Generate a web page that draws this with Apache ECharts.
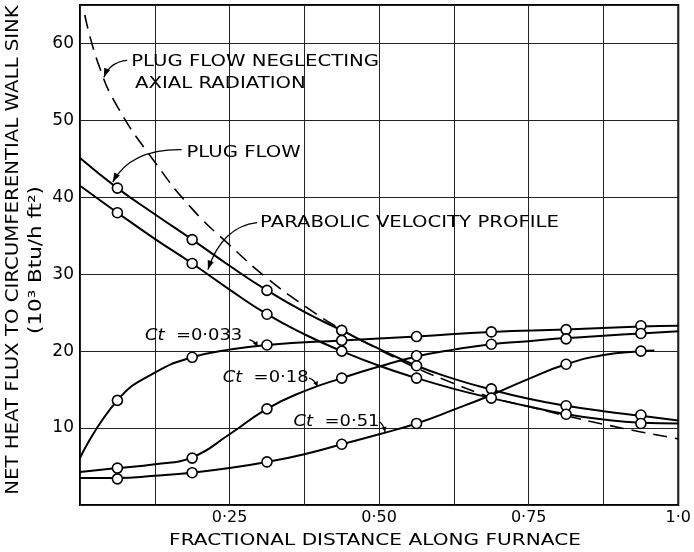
<!DOCTYPE html>
<html><head><meta charset="utf-8">
<script src="https://cdn.jsdelivr.net/npm/echarts@6/dist/echarts.min.js"></script>
<style>html,body{margin:0;padding:0;background:#fff}#c{width:694px;height:552px}</style>
</head><body><div id="c"></div>
<script>
// ---- data ----
const xTickValues = [0.25, 0.5, 0.75, 1.0];
const xTickLabels = ['0·25', '0·50', '0·75', '1·0'];
const yTickValues = [10, 20, 30, 40, 50, 60];

const dashedCurve = [[0.008,63.7],[0.03,57.5],[0.0625,51.8],[0.125,44.6],[0.1875,38.5],[0.25,33.8],[0.3125,29.5],[0.375,25.9],[0.4375,22.8],[0.5,20.2],[0.5625,17.8],[0.625,15.8],[0.6875,14.0],[0.75,12.8],[0.8125,11.6],[0.875,10.5],[0.9375,9.5],[1.0,8.6]];

const plugCurve = [[0,45.1],[0.0625,41.2],[0.125,37.8],[0.1875,34.5],[0.25,31.1],[0.3125,27.9],[0.375,25.1],[0.4375,22.7],[0.5,20.3],[0.5625,18.1],[0.625,16.4],[0.6875,15.0],[0.75,13.8],[0.8125,12.9],[0.875,12.2],[0.9375,11.6],[1.0,11.0]];
const plugPts = [[0.0625,41.2],[0.1875,34.5],[0.3125,27.9],[0.4375,22.7],[0.5625,18.1],[0.6875,15.1],[0.8125,12.9],[0.9375,11.7]];

const paraCurve = [[0,41.5],[0.0625,38.0],[0.125,34.6],[0.1875,31.4],[0.25,28.0],[0.3125,24.8],[0.375,22.2],[0.4375,20.0],[0.5,18.1],[0.5625,16.5],[0.625,15.1],[0.6875,13.9],[0.75,12.8],[0.8125,11.8],[0.875,11.1],[0.9375,10.7],[1.0,10.6]];
const paraPts = [[0.0625,38.0],[0.1875,31.4],[0.3125,24.8],[0.4375,20.0],[0.5625,16.5],[0.6875,13.9],[0.8125,11.8],[0.9375,10.6]];

const ct033Curve = [[0,6.1],[0.0625,13.6],[0.125,17.2],[0.1875,19.2],[0.25,20.2],[0.3125,20.8],[0.4375,21.4],[0.5625,21.9],[0.6875,22.5],[0.8125,22.8],[0.9375,23.2],[1.0,23.3]];
const ct033Pts = [[0.0625,13.6],[0.1875,19.2],[0.3125,20.8],[0.4375,21.4],[0.5625,21.9],[0.6875,22.5],[0.8125,22.8],[0.9375,23.3]];

const ct018Curve = [[0,4.3],[0.0625,4.8],[0.125,5.3],[0.1875,6.2],[0.25,9.2],[0.3125,12.5],[0.375,14.8],[0.4375,16.5],[0.5,18.0],[0.5625,19.3],[0.625,20.2],[0.6875,20.9],[0.75,21.3],[0.8125,21.7],[0.875,22.0],[0.9375,22.3],[1.0,22.6]];
const ct018Pts = [[0.0625,4.8],[0.1875,6.1],[0.3125,12.5],[0.4375,16.5],[0.5625,19.4],[0.6875,20.9],[0.8125,21.6],[0.9375,22.3]];

const ct051Curve = [[0,3.5],[0.0625,3.5],[0.125,3.8],[0.1875,4.2],[0.25,4.8],[0.3125,5.6],[0.375,6.6],[0.4375,7.9],[0.5,9.2],[0.5625,10.6],[0.625,12.4],[0.6875,14.3],[0.75,16.4],[0.8125,18.3],[0.875,19.5],[0.9375,20.0],[0.96,20.1]];
const ct051Pts = [[0.0625,3.4],[0.1875,4.2],[0.3125,5.6],[0.4375,7.9],[0.5625,10.6],[0.8125,18.3],[0.9375,20.0]];

// ---- chart ----
const FONT = '"DejaVu Sans", sans-serif';
const chart = echarts.init(document.getElementById('c'), null, {renderer: 'canvas'});

function lineSeries(data, dashed) {
  return {
    type: 'line', data: data, showSymbol: false, smooth: 0.5,
    lineStyle: {color: '#000', width: dashed ? 1.6 : 2, type: dashed ? [14, 8] : 'solid'},
    silent: true, z: 2, animation: false
  };
}
function markerSeries(data) {
  return {
    type: 'scatter', data: data, symbol: 'circle', symbolSize: 10,
    itemStyle: {color: '#fff', borderColor: '#000', borderWidth: 1.6, opacity: 1},
    silent: true, z: 3, animation: false
  };
}

chart.setOption({
  animation: false,
  backgroundColor: '#fff',
  grid: {left: 80, right: 6, top: 5, bottom: 47, show: true, borderColor: '#000', borderWidth: 2, backgroundColor: 'transparent'},
  xAxis: {
    type: 'value', min: 0, max: 1, interval: 0.125,
    axisLine: {show: false}, axisTick: {show: false},
    splitLine: {show: true, lineStyle: {color: '#222', width: 1}},
    axisLabel: {
      margin: 5, color: '#000', fontFamily: FONT, fontSize: 16,
      formatter: function (v) {
        for (let i = 0; i < xTickValues.length; i++) if (Math.abs(v - xTickValues[i]) < 1e-9) return xTickLabels[i];
        return '';
      }
    }
  },
  yAxis: {
    type: 'value', min: 0, max: 65, interval: 10,
    axisLine: {show: false}, axisTick: {show: false},
    splitLine: {show: true, lineStyle: {color: '#222', width: 1}},
    axisLabel: {
      margin: 6, color: '#000', fontFamily: FONT, fontSize: 17, showMaxLabel: false,
      formatter: function (v) { return yTickValues.indexOf(v) >= 0 ? String(v) : ''; }
    }
  },
  series: [
    lineSeries(dashedCurve, true),
    lineSeries(plugCurve), lineSeries(paraCurve),
    lineSeries(ct033Curve), lineSeries(ct018Curve), lineSeries(ct051Curve),
    markerSeries(plugPts), markerSeries(paraPts),
    markerSeries(ct033Pts), markerSeries(ct018Pts), markerSeries(ct051Pts)
  ]
});

// ---- annotations (anchored in data coordinates) ----
function P(pt) { return chart.convertToPixel({gridIndex: 0}, pt); }
function txt(pos, text, opts) {
  opts = opts || {};
  return {
    type: 'text', x: pos[0], y: pos[1], rotation: opts.rotation || 0,
    scaleX: opts.scaleX || 1, z: 20, silent: true,
    style: {
      text: text, fill: '#000', font: (opts.size || 16) + 'px ' + FONT,
      align: opts.align || 'left', verticalAlign: 'middle', rich: opts.rich
    }
  };
}
function arrowHead(tip, from, L, W) {
  L = L || 8; W = W || 3;
  const dx = tip[0] - from[0], dy = tip[1] - from[1];
  const d = Math.hypot(dx, dy) || 1, ux = dx / d, uy = dy / d;
  const bx = tip[0] - ux * L, by = tip[1] - uy * L;
  return {type: 'polygon', z: 20, silent: true,
    shape: {points: [tip, [bx - uy * W, by + ux * W], [bx + uy * W, by - ux * W]]},
    style: {fill: '#000'}};
}
function curvedArrow(s, c, e, head) {
  const a = P(s), b = P(c), t = P(e);
  const out = [{type: 'bezierCurve', z: 20, silent: true,
    shape: {x1: a[0], y1: a[1], cpx1: b[0], cpy1: b[1], x2: t[0], y2: t[1]},
    style: {stroke: '#000', lineWidth: 1.3, fill: null}}];
  out.push(arrowHead(t, b, head ? head[0] : 9, head ? head[1] : 3.2));
  return out;
}

const S = 1.23;
const ctRich = {i: {fontStyle: 'italic', font: 'italic 16px ' + FONT}};
let g = [];
g.push(txt(P([0.0855, 57.6]), 'PLUG FLOW NEGLECTING', {scaleX: S}));
g.push(txt(P([0.092, 54.7]), 'AXIAL RADIATION', {scaleX: S}));
g = g.concat(curvedArrow([0.0789, 57.8], [0.050, 57.6], [0.040, 55.6]));
g.push(txt(P([0.178, 45.8]), 'PLUG FLOW', {scaleX: S}));
g = g.concat(curvedArrow([0.1699, 46.2], [0.085, 46.3], [0.0548, 42.0]));
g.push(txt(P([0.301, 36.7]), 'PARABOLIC VELOCITY PROFILE', {scaleX: S}));
g = g.concat(curvedArrow([0.296, 36.7], [0.238, 36.2], [0.2138, 30.6]));

g.push(txt(P([0.1086, 22.0]), '{i|Ct}  =0·033', {scaleX: 1.12, rich: ctRich}));
g = g.concat(curvedArrow([0.283, 21.5], [0.292, 21.3], [0.297, 20.6], [5, 2.5]));
g.push(txt(P([0.2385, 16.5]), '{i|Ct}  =0·18', {scaleX: 1.12, rich: ctRich}));
g = g.concat(curvedArrow([0.383, 16.5], [0.392, 16.3], [0.397, 15.4], [5, 2.5]));
g.push(txt(P([0.357, 10.8]), '{i|Ct}  =0·51', {scaleX: 1.12, rich: ctRich}));
g = g.concat(curvedArrow([0.501, 10.8], [0.507, 10.5], [0.510, 9.5], [5, 2.5]));

// axis titles
g.push(txt([375, 541], 'FRACTIONAL DISTANCE ALONG FURNACE', {size: 15, scaleX: 1.34, align: 'center'}));
g.push(txt([14, 250], 'NET HEAT FLUX TO CIRCUMFERENTIAL WALL SINK', {size: 17, scaleX: 1.16, align: 'center', rotation: Math.PI / 2}));
g.push(txt([37, 260], '(10³ Btu/h ft²)', {size: 17, scaleX: 1.26, align: 'center', rotation: Math.PI / 2}));

chart.setOption({graphic: g});
</script></body></html>
